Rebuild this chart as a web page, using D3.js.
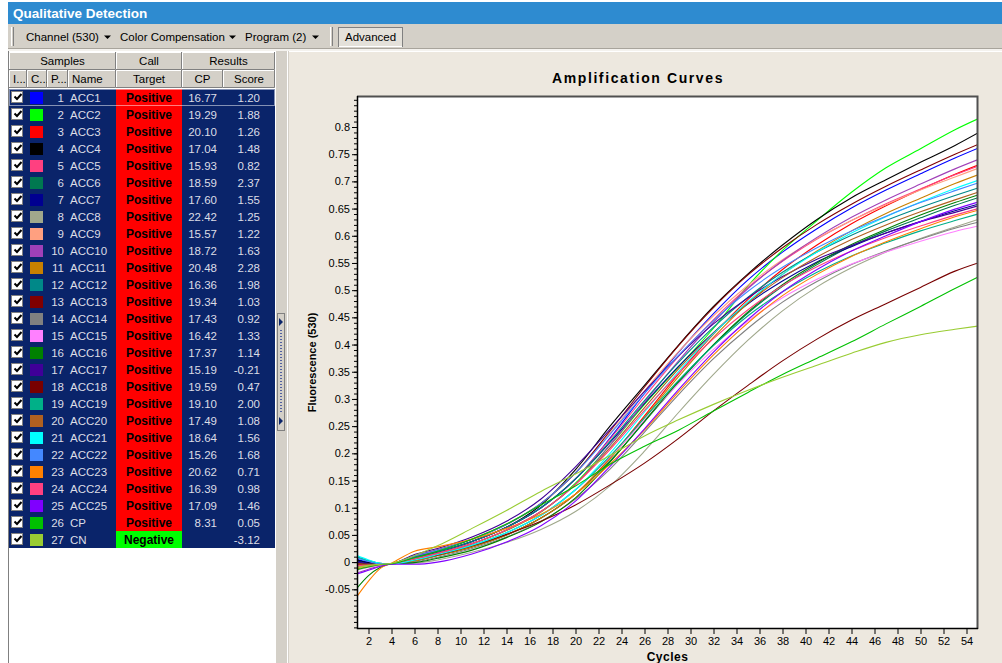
<!DOCTYPE html>
<html>
<head>
<meta charset="utf-8">
<script src="https://cdn.jsdelivr.net/npm/d3@7"></script>
<style>
  html, body { margin: 0; padding: 0; background: #fff; overflow: hidden; }
  svg { display: block; font-family: "Liberation Sans", Arial, sans-serif; }
</style>
</head>
<body>
<div id="app"></div>
<script>
// --- Page size ---
const W = 1002, H = 663;

// --- Sample table data ---
const sampleNames = ['ACC1', 'ACC2', 'ACC3', 'ACC4', 'ACC5', 'ACC6', 'ACC7', 'ACC8', 'ACC9', 'ACC10',
  'ACC11', 'ACC12', 'ACC13', 'ACC14', 'ACC15', 'ACC16', 'ACC17', 'ACC18', 'ACC19', 'ACC20',
  'ACC21', 'ACC22', 'ACC23', 'ACC24', 'ACC25', 'CP', 'CN'];
const sampleColors = ['#0000ff', '#00ff00', '#ff0000', '#000000', '#ff4080', '#007850', '#000090', '#a0a88c', '#ffa080', '#a040b8',
  '#c88000', '#008888', '#800000', '#808080', '#ff80ff', '#008000', '#400098', '#780000', '#00b088', '#b06020',
  '#00ffff', '#4488ff', '#ff8000', '#ff4080', '#8000ff', '#00c000', '#99cc33'];
const calls = ['Positive', 'Positive', 'Positive', 'Positive', 'Positive', 'Positive', 'Positive', 'Positive', 'Positive', 'Positive',
  'Positive', 'Positive', 'Positive', 'Positive', 'Positive', 'Positive', 'Positive', 'Positive', 'Positive', 'Positive',
  'Positive', 'Positive', 'Positive', 'Positive', 'Positive', 'Positive', 'Negative'];
const cpValues = [16.77, 19.29, 20.10, 17.04, 15.93, 18.59, 17.60, 22.42, 15.57, 18.72,
  20.48, 16.36, 19.34, 17.43, 16.42, 17.37, 15.19, 19.59, 19.10, 17.49,
  18.64, 15.26, 20.62, 16.39, 17.09, 8.31, null];
const scores = [1.20, 1.88, 1.26, 1.48, 0.82, 2.37, 1.55, 1.25, 1.22, 1.63,
  2.28, 1.98, 1.03, 0.92, 1.33, 1.14, -0.21, 0.47, 2.00, 1.08,
  1.56, 1.68, 0.71, 0.98, 1.46, 0.05, -3.12];

// --- Amplification curves (fluorescence read at these cycles) ---
const cycles = [1, 2, 3, 4, 6, 8, 11, 14, 17, 20, 23, 26, 29, 32, 35, 38, 41, 44, 47, 50, 53, 55];
const curves = [
  [0.005, 0.000, -0.003, -0.003, 0.009, 0.019, 0.038, 0.064, 0.100, 0.153, 0.228, 0.310, 0.387, 0.457, 0.519, 0.570, 0.613, 0.651, 0.684, 0.714, 0.743, 0.761],
  [0.002, -0.002, -0.004, -0.003, 0.006, 0.016, 0.034, 0.058, 0.092, 0.145, 0.215, 0.290, 0.360, 0.430, 0.508, 0.573, 0.628, 0.680, 0.725, 0.760, 0.795, 0.815],
  [-0.005, -0.006, -0.005, -0.003, 0.002, 0.012, 0.028, 0.050, 0.081, 0.125, 0.191, 0.269, 0.347, 0.419, 0.483, 0.538, 0.583, 0.622, 0.655, 0.685, 0.713, 0.730],
  [0.004, -0.001, -0.003, -0.003, 0.006, 0.018, 0.038, 0.064, 0.105, 0.170, 0.250, 0.325, 0.400, 0.470, 0.530, 0.583, 0.630, 0.670, 0.703, 0.735, 0.766, 0.789],
  [-0.008, -0.007, -0.005, -0.003, 0.009, 0.019, 0.038, 0.064, 0.100, 0.153, 0.226, 0.304, 0.379, 0.446, 0.505, 0.553, 0.594, 0.628, 0.659, 0.686, 0.712, 0.728],
  [-0.001, -0.003, -0.004, -0.003, 0.002, 0.012, 0.028, 0.050, 0.081, 0.125, 0.186, 0.258, 0.331, 0.399, 0.458, 0.507, 0.547, 0.581, 0.609, 0.633, 0.656, 0.670],
  [0.002, -0.002, -0.004, -0.003, 0.009, 0.019, 0.038, 0.064, 0.100, 0.153, 0.220, 0.292, 0.361, 0.422, 0.475, 0.517, 0.552, 0.580, 0.605, 0.626, 0.646, 0.658],
  [-0.009, -0.007, -0.005, -0.003, -0.002, 0.004, 0.018, 0.036, 0.060, 0.093, 0.140, 0.204, 0.276, 0.345, 0.408, 0.462, 0.506, 0.541, 0.570, 0.595, 0.616, 0.630],
  [-0.010, -0.008, -0.006, -0.003, 0.012, 0.023, 0.043, 0.070, 0.108, 0.164, 0.237, 0.315, 0.388, 0.453, 0.509, 0.556, 0.595, 0.628, 0.657, 0.684, 0.708, 0.724],
  [-0.020, -0.013, -0.007, -0.003, 0.006, 0.016, 0.034, 0.059, 0.093, 0.143, 0.215, 0.294, 0.371, 0.441, 0.503, 0.554, 0.597, 0.634, 0.666, 0.695, 0.723, 0.740],
  [-0.012, -0.009, -0.006, -0.003, 0.002, 0.012, 0.028, 0.050, 0.081, 0.125, 0.190, 0.266, 0.342, 0.413, 0.476, 0.529, 0.572, 0.609, 0.641, 0.669, 0.696, 0.712],
  [0.010, 0.003, -0.002, -0.003, 0.009, 0.019, 0.038, 0.064, 0.100, 0.153, 0.222, 0.297, 0.368, 0.432, 0.487, 0.533, 0.570, 0.601, 0.628, 0.652, 0.674, 0.688],
  [-0.004, -0.005, -0.005, -0.003, 0.011, 0.022, 0.042, 0.069, 0.108, 0.164, 0.241, 0.322, 0.399, 0.468, 0.528, 0.578, 0.621, 0.658, 0.691, 0.721, 0.750, 0.768],
  [-0.007, -0.006, -0.005, -0.003, 0.000, 0.009, 0.025, 0.046, 0.075, 0.116, 0.171, 0.239, 0.309, 0.374, 0.430, 0.478, 0.516, 0.547, 0.572, 0.594, 0.614, 0.625],
  [-0.015, -0.010, -0.006, -0.003, 0.004, 0.014, 0.031, 0.054, 0.086, 0.133, 0.193, 0.261, 0.329, 0.391, 0.443, 0.486, 0.520, 0.548, 0.570, 0.590, 0.608, 0.618],
  [-0.048, -0.025, -0.010, -0.003, -0.001, 0.007, 0.022, 0.045, 0.074, 0.118, 0.184, 0.259, 0.333, 0.400, 0.460, 0.510, 0.550, 0.584, 0.612, 0.638, 0.661, 0.675],
  [0.000, -0.003, -0.004, -0.003, 0.014, 0.025, 0.046, 0.075, 0.116, 0.175, 0.244, 0.314, 0.380, 0.438, 0.486, 0.525, 0.557, 0.582, 0.605, 0.626, 0.643, 0.655],
  [-0.002, -0.004, -0.004, -0.003, 0.004, 0.013, 0.030, 0.051, 0.075, 0.105, 0.142, 0.182, 0.228, 0.278, 0.325, 0.370, 0.410, 0.445, 0.475, 0.505, 0.535, 0.550],
  [0.008, 0.002, -0.002, -0.003, 0.004, 0.014, 0.031, 0.054, 0.086, 0.133, 0.195, 0.265, 0.335, 0.398, 0.453, 0.497, 0.533, 0.563, 0.587, 0.609, 0.628, 0.640],
  [-0.003, -0.004, -0.004, -0.003, 0.006, 0.016, 0.034, 0.059, 0.093, 0.143, 0.210, 0.284, 0.356, 0.421, 0.477, 0.523, 0.561, 0.593, 0.620, 0.644, 0.666, 0.680],
  [0.012, 0.004, -0.002, -0.003, 0.004, 0.014, 0.031, 0.054, 0.086, 0.133, 0.200, 0.276, 0.351, 0.420, 0.479, 0.529, 0.570, 0.605, 0.635, 0.662, 0.687, 0.702],
  [0.007, 0.001, -0.003, -0.003, 0.011, 0.022, 0.042, 0.069, 0.108, 0.164, 0.235, 0.310, 0.381, 0.444, 0.498, 0.542, 0.578, 0.609, 0.636, 0.661, 0.683, 0.697],
  [-0.063, -0.035, -0.012, -0.002, 0.020, 0.028, 0.042, 0.062, 0.088, 0.125, 0.180, 0.243, 0.314, 0.381, 0.440, 0.490, 0.529, 0.562, 0.589, 0.613, 0.635, 0.647],
  [-0.006, -0.006, -0.005, -0.003, 0.006, 0.016, 0.034, 0.059, 0.093, 0.143, 0.207, 0.279, 0.348, 0.411, 0.464, 0.508, 0.543, 0.572, 0.597, 0.618, 0.638, 0.650],
  [-0.022, -0.015, -0.008, -0.004, -0.004, 0.000, 0.015, 0.037, 0.067, 0.112, 0.176, 0.245, 0.318, 0.386, 0.446, 0.497, 0.538, 0.572, 0.600, 0.626, 0.649, 0.662],
  [-0.014, -0.009, -0.005, -0.003, 0.008, 0.020, 0.042, 0.070, 0.105, 0.140, 0.180, 0.213, 0.243, 0.278, 0.312, 0.345, 0.375, 0.405, 0.438, 0.470, 0.503, 0.524],
  [-0.010, -0.006, -0.004, -0.002, 0.012, 0.030, 0.062, 0.095, 0.130, 0.162, 0.196, 0.232, 0.262, 0.290, 0.316, 0.340, 0.362, 0.384, 0.404, 0.418, 0.428, 0.434]
];

// --- Axis ticks ---
const xTicks = [2, 4, 6, 8, 10, 12, 14, 16, 18, 20, 22, 24, 26, 28, 30, 32, 34, 36, 38, 40, 42, 44, 46, 48, 50, 52, 54];
const yTicks = [-0.05, 0, 0.05, 0.1, 0.15, 0.2, 0.25, 0.3, 0.35, 0.4, 0.45, 0.5, 0.55, 0.6, 0.65, 0.7, 0.75, 0.8];
const toolbarItems = ['Channel (530)', 'Color Compensation', 'Program (2)'];

// --- Colours of the window ---
const grey = '#d4d0c8', dark = '#808080', navy = '#0a246a', beige = '#ede8df';

const svg = d3.select('#app').append('svg')
    .attr('width', W)
    .attr('height', H);

svg.append('rect').attr('width', W).attr('height', H).attr('fill', '#fff');

// --- Title bar ---
svg.append('rect')
    .attr('x', 8).attr('y', 2).attr('width', W - 8).attr('height', 22)
    .attr('fill', '#2e8bd0');
svg.append('text')
    .attr('x', 13).attr('y', 18)
    .attr('fill', '#fff').attr('font-weight', 'bold').attr('font-size', 13.5)
    .text('Qualitative Detection');

// --- Toolbar ---
const tb = svg.append('g');
tb.append('rect').attr('x', 8).attr('y', 24).attr('width', W - 8).attr('height', 25).attr('fill', grey);
tb.append('line').attr('x1', 8).attr('x2', W).attr('y1', 48.5).attr('y2', 48.5).attr('stroke', '#a8a49c');
tb.append('rect').attr('x', 8).attr('y', 49).attr('width', W - 8).attr('height', 2).attr('fill', '#f4f2ee');

function grip(x) {
    tb.append('line').attr('x1', x + 0.5).attr('x2', x + 0.5).attr('y1', 27).attr('y2', 46).attr('stroke', '#fff');
    tb.append('line').attr('x1', x + 2.5).attr('x2', x + 2.5).attr('y1', 27).attr('y2', 46).attr('stroke', dark);
}
grip(11);
grip(330);

const itemX = [26, 120, 245];
const arrowX = [107, 232, 315];
toolbarItems.forEach((t, i) => {
    tb.append('text').attr('x', itemX[i]).attr('y', 41).attr('font-size', 11.5).attr('fill', '#000').text(t);
    tb.append('path')
        .attr('d', `M${arrowX[i] - 3},35.5 h7 l-3.5,3.5 z`)
        .attr('fill', '#000');
});

// "Advanced" pressed button
tb.append('rect').attr('x', 338.5).attr('y', 27.5).attr('width', 64).attr('height', 19)
    .attr('fill', '#e4e1da').attr('stroke', dark);
tb.append('line').attr('x1', 339).attr('x2', 402).attr('y1', 46.5).attr('y2', 46.5).attr('stroke', '#fff');
tb.append('text').attr('x', 345).attr('y', 41).attr('font-size', 11.5).text('Advanced');

// --- Sample table (left panel) ---
const colX = [9, 27, 47, 68, 116, 182, 223, 275];
const rowH = 17, bodyTop = 89;

const table = svg.append('g');
table.append('rect').attr('x', 8).attr('y', 51).attr('width', 268).attr('height', H - 51).attr('fill', '#fff');
table.append('line').attr('x1', 8.5).attr('x2', 8.5).attr('y1', 51).attr('y2', H).attr('stroke', dark);

function headerCell(x0, x1, y0, h, label, anchor) {
    table.append('rect').attr('x', x0).attr('y', y0).attr('width', x1 - x0).attr('height', h).attr('fill', grey);
    table.append('path').attr('d', `M${x0 + 0.5},${y0 + h} V${y0 + 0.5} H${x1}`).attr('stroke', '#fff').attr('fill', 'none');
    table.append('path').attr('d', `M${x0},${y0 + h - 0.5} H${x1 - 0.5} V${y0}`).attr('stroke', dark).attr('fill', 'none');
    const tx = anchor === 'start' ? x0 + 4 : (x0 + x1) / 2;
    table.append('text')
        .attr('x', tx).attr('y', y0 + h / 2 + 4)
        .attr('text-anchor', anchor || 'middle')
        .attr('font-size', 11.5).attr('fill', '#000')
        .text(label);
}
headerCell(colX[0], colX[4], 52, 18, 'Samples');
headerCell(colX[4], colX[5], 52, 18, 'Call');
headerCell(colX[5], colX[7], 52, 18, 'Results');
headerCell(colX[0], colX[1], 70, 18, 'I...', 'start');
headerCell(colX[1], colX[2], 70, 18, 'C...', 'start');
headerCell(colX[2], colX[3], 70, 18, 'P...', 'start');
headerCell(colX[3], colX[4], 70, 18, 'Name', 'start');
headerCell(colX[4], colX[5], 70, 18, 'Target');
headerCell(colX[5], colX[6], 70, 18, 'CP');
headerCell(colX[6], colX[7], 70, 18, 'Score');

table.append('rect')
    .attr('x', colX[0]).attr('y', bodyTop)
    .attr('width', colX[7] - colX[0]).attr('height', rowH * sampleNames.length)
    .attr('fill', navy);

const rows = table.selectAll('g.row')
    .data(sampleNames)
    .join('g')
    .attr('class', 'row')
    .attr('transform', (d, i) => `translate(0,${bodyTop + i * rowH})`);

rows.append('rect')
    .attr('x', colX[4]).attr('y', 0).attr('width', colX[5] - colX[4]).attr('height', rowH)
    .attr('fill', (d, i) => calls[i] === 'Positive' ? '#ff0000' : '#00ff00');

// checkbox
rows.append('rect')
    .attr('x', 11.5).attr('y', 2.5).attr('width', 11).attr('height', 11)
    .attr('fill', '#fff').attr('stroke', dark);
rows.append('path')
    .attr('d', 'M14.5,7.5 l2.5,2.5 l4.5,-5')
    .attr('fill', 'none').attr('stroke', '#000').attr('stroke-width', 2);

// colour swatch
rows.append('rect')
    .attr('x', 30).attr('y', 3).attr('width', 13).attr('height', 12)
    .attr('fill', (d, i) => sampleColors[i]);

const rowText = '#dcdde6';
rows.append('text')
    .attr('x', 64).attr('y', 13).attr('text-anchor', 'end')
    .attr('font-size', 11.5).attr('fill', rowText)
    .text((d, i) => i + 1);
rows.append('text')
    .attr('x', 70).attr('y', 13)
    .attr('font-size', 11.5).attr('fill', rowText)
    .text(d => d);
rows.append('text')
    .attr('x', (colX[4] + colX[5]) / 2).attr('y', 13).attr('text-anchor', 'middle')
    .attr('font-size', 12).attr('font-weight', 'bold').attr('fill', '#000')
    .text((d, i) => calls[i]);
rows.append('text')
    .attr('x', 217).attr('y', 13).attr('text-anchor', 'end')
    .attr('font-size', 11.5).attr('fill', rowText)
    .text((d, i) => cpValues[i] == null ? '' : cpValues[i].toFixed(2));
rows.append('text')
    .attr('x', 260).attr('y', 13).attr('text-anchor', 'end')
    .attr('font-size', 11.5).attr('fill', rowText)
    .text((d, i) => scores[i].toFixed(2));

// focus rectangle on the first row
table.append('rect')
    .attr('x', colX[0] + 0.5).attr('y', bodyTop + 0.5)
    .attr('width', colX[7] - colX[0] - 1).attr('height', rowH - 1)
    .attr('fill', 'none').attr('stroke', '#fff').attr('stroke-dasharray', '1,1');

// --- Splitter ---
svg.append('rect').attr('x', 276).attr('y', 51).attr('width', 13).attr('height', H - 51).attr('fill', grey);
svg.append('line').attr('x1', 287.5).attr('x2', 287.5).attr('y1', 51).attr('y2', H).attr('stroke', '#fff');
svg.append('rect').attr('x', 277.5).attr('y', 313.5).attr('width', 7).attr('height', 117)
    .attr('fill', grey).attr('stroke', dark);
svg.append('path').attr('d', 'M279,318 l4,4 l-4,4 z').attr('fill', navy);
svg.append('path').attr('d', 'M279,417 l4,4 l-4,4 z').attr('fill', navy);
svg.append('g').selectAll('rect')
    .data(d3.range(330, 413, 3))
    .join('rect')
    .attr('x', 280).attr('y', d => d).attr('width', 2).attr('height', 1)
    .attr('fill', '#5060a0');

// --- Chart panel ---
svg.append('rect').attr('x', 289).attr('y', 52).attr('width', W - 289).attr('height', H - 52).attr('fill', beige);

const plot = { left: 357, right: 978, top: 96, bottom: 629 };

const x = d3.scaleLinear().domain([1, 55]).range([plot.left, plot.right]);
const y = d3.scaleLinear().domain([-0.123, 0.857]).range([plot.bottom, plot.top]);

svg.append('text')
    .attr('x', 638).attr('y', 83)
    .attr('text-anchor', 'middle')
    .attr('font-size', 14).attr('font-weight', 'bold').attr('letter-spacing', 1.6)
    .text('Amplification Curves');

svg.append('rect')
    .attr('x', plot.left).attr('y', plot.top)
    .attr('width', plot.right - plot.left).attr('height', plot.bottom - plot.top)
    .attr('fill', '#fff');

svg.append('clipPath').attr('id', 'plot-clip')
    .append('rect')
    .attr('x', plot.left).attr('y', plot.top)
    .attr('width', plot.right - plot.left).attr('height', plot.bottom - plot.top);

// --- Curves ---
const line = d3.line()
    .x((d, i) => x(cycles[i]))
    .y(d => y(d))
    .curve(d3.curveMonotoneX);

svg.append('g')
    .attr('clip-path', 'url(#plot-clip)')
    .selectAll('path')
    .data(curves)
    .join('path')
    .attr('d', line)
    .attr('fill', 'none')
    .attr('stroke', (d, i) => sampleColors[i])
    .attr('stroke-width', 1.1);

// --- Frame ---
svg.append('path')
    .attr('d', `M${plot.left},${plot.top + 0.5} H${plot.right - 0.5} V${plot.bottom}`)
    .attr('fill', 'none').attr('stroke', '#505050').attr('stroke-width', 2);
svg.append('path')
    .attr('d', `M${plot.left + 0.5},${plot.top} V${plot.bottom - 0.5} H${plot.right}`)
    .attr('fill', 'none').attr('stroke', '#000').attr('stroke-width', 1.5);

// --- Axes ---
const fmt = d => String(+d.toFixed(2));

const yMinor = svg.append('g')
    .attr('transform', `translate(${plot.left},0)`)
    .call(d3.axisLeft(y).tickValues(d3.range(-12, 86).map(v => v / 100)).tickSize(3).tickFormat(''));
yMinor.select('.domain').remove();

const yAxis = svg.append('g')
    .attr('transform', `translate(${plot.left},0)`)
    .call(d3.axisLeft(y).tickValues(yTicks).tickSize(5).tickPadding(2).tickFormat(fmt));
yAxis.select('.domain').remove();

const xAxis = svg.append('g')
    .attr('transform', `translate(0,${plot.bottom})`)
    .call(d3.axisBottom(x).tickValues(xTicks).tickSize(5).tickPadding(3).tickFormat(fmt));
xAxis.select('.domain').remove();

svg.selectAll('.tick text')
    .attr('font-family', '"Liberation Sans", Arial, sans-serif')
    .attr('font-size', 11)
    .attr('fill', '#000');
svg.selectAll('.tick line').attr('stroke', '#000');

svg.append('text')
    .attr('x', (plot.left + plot.right) / 2).attr('y', 661)
    .attr('text-anchor', 'middle')
    .attr('font-size', 12).attr('font-weight', 'bold').attr('letter-spacing', 0.5)
    .text('Cycles');

svg.append('text')
    .attr('transform', `translate(316,${(plot.top + plot.bottom) / 2}) rotate(-90)`)
    .attr('text-anchor', 'middle')
    .attr('font-size', 11).attr('font-weight', 'bold')
    .text('Fluorescence (530)');
</script>
</body>
</html>
